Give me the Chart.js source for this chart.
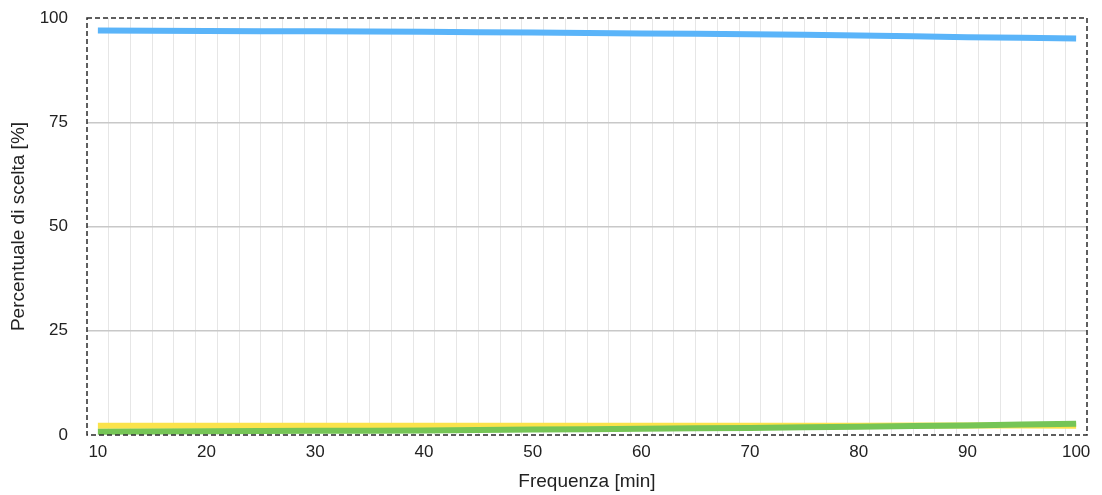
<!DOCTYPE html>
<html>
<head>
<meta charset="utf-8">
<script src="https://cdn.jsdelivr.net/npm/chart.js@4/dist/chart.umd.min.js"></script>
<style>
  html, body { margin: 0; padding: 0; background: #fff; }
  #wrap { width: 1102px; height: 495px; }
</style>
</head>
<body>
<div id="wrap"><canvas id="chart" width="1102" height="495"></canvas></div>
<script>
// --- dati ---
const frequenze = [10, 20, 30, 40, 50, 60, 70, 80, 90, 100];
const serieBlu    = [97.0, 96.9, 96.8, 96.7, 96.5, 96.3, 96.1, 95.8, 95.4, 95.1];
const serieVerde  = [0.8, 0.9, 1.0, 1.1, 1.3, 1.5, 1.7, 2.0, 2.3, 2.7];
const serieGialla = [2.2, 2.2, 2.2, 2.2, 2.2, 2.2, 2.2, 2.2, 2.3, 2.2];
const xTickLabels = [10, 20, 30, 40, 50, 60, 70, 80, 90, 100];
const yTickLabels = [0, 25, 50, 75, 100];

const FONT = "'Liberation Sans', Arial, Helvetica, sans-serif";

function punti(valori) {
  return frequenze.map((f, i) => ({ x: f, y: valori[i] }));
}

// bordo tratteggiato attorno all'area del grafico
const bordoTratteggiato = {
  id: 'bordoTratteggiato',
  afterDraw(chart) {
    const { ctx, chartArea: a } = chart;
    ctx.save();
    ctx.strokeStyle = '#2a2a2a';
    ctx.lineWidth = 1.5;
    ctx.setLineDash([5, 3]);
    ctx.strokeRect(a.left, a.top, a.right - a.left, a.bottom - a.top);
    ctx.restore();
  }
};

const linea = (label, data, color) => ({
  label: label,
  data: punti(data),
  borderColor: color,
  backgroundColor: color,
  borderWidth: 6,
  pointRadius: 0,
  tension: 0.3,
  borderCapStyle: 'butt',
  fill: false
});

new Chart(document.getElementById('chart').getContext('2d'), {
  type: 'line',
  data: {
    datasets: [
      linea('Serie 1', serieBlu, '#5ab4f9'),
      linea('Serie 2', serieVerde, '#76c556'),
      linea('Serie 3', serieGialla, '#fbe34b')
    ]
  },
  options: {
    responsive: false,
    animation: false,
    layout: { padding: { top: 18, right: 15, left: 0, bottom: 0 } },
    plugins: { legend: { display: false }, tooltip: { enabled: false } },
    scales: {
      x: {
        type: 'linear',
        min: 9,
        max: 101,
        afterBuildTicks: (scale) => {
          let t = [];
          for (let v = 9; v <= 101; v++) t.push({ value: v });
          scale.ticks = t;
        },
        afterFit: (scale) => { scale.height = 60; },
        border: { display: false },
        grid: {
          drawTicks: false,
          lineWidth: 1,
          color: (c) => (c.tick && c.tick.value % 2 === 1 && c.tick.value > 9 && c.tick.value < 101) ? '#e6e6e6' : 'rgba(0,0,0,0)'
        },
        ticks: {
          autoSkip: false,
          maxRotation: 0,
          padding: 7,
          color: '#222',
          font: { family: FONT, size: 17 },
          callback: (v) => xTickLabels.includes(v) ? String(v) : ''
        },
        title: {
          display: true,
          text: 'Frequenza [min]',
          color: '#222',
          font: { family: FONT, size: 19 },
          padding: { top: 0, bottom: 2 }
        }
      },
      y: {
        min: 0,
        max: 100,
        afterBuildTicks: (scale) => { scale.ticks = yTickLabels.map(v => ({ value: v })); },
        afterFit: (scale) => {
          scale.width = 87;
          // niente spazio extra sopra/sotto per le etichette
          scale.paddingTop = 0;
          scale.paddingBottom = 0;
        },
        border: { display: false },
        grid: {
          drawTicks: false,
          lineWidth: 1.5,
          color: (c) => (c.tick && c.tick.value > 0 && c.tick.value < 100) ? '#c8c8c8' : 'rgba(0,0,0,0)'
        },
        ticks: {
          padding: 19,
          color: '#222',
          font: { family: FONT, size: 17 }
        },
        title: {
          display: true,
          text: 'Percentuale di scelta [%]',
          color: '#222',
          font: { family: FONT, size: 19 },
          padding: { top: 7, bottom: 0 }
        }
      }
    }
  },
  plugins: [bordoTratteggiato]
});
</script>
</body>
</html>
